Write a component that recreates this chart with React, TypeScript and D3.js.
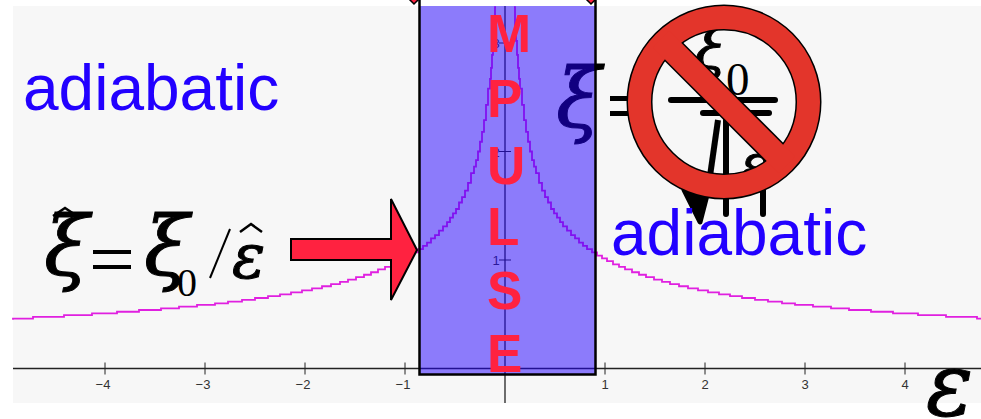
import { useEffect, useRef } from 'react';
import * as d3 from 'd3';

const WIDTH = 981;
const HEIGHT = 419;

const branchEps = [0.09, 0.1, 0.11, 0.12, 0.13, 0.14, 0.15, 0.17, 0.19, 0.21, 0.23, 0.25, 0.27, 0.29, 0.31, 0.34, 0.37, 0.4, 0.43, 0.46, 0.49, 0.52, 0.55, 0.58, 0.62, 0.66, 0.7, 0.74, 0.78, 0.82, 0.87, 0.92, 0.97, 1.02, 1.08, 1.14, 1.2, 1.27, 1.34, 1.41, 1.49, 1.57, 1.65, 1.74, 1.83, 1.93, 2.03, 2.14, 2.25, 2.37, 2.5, 2.63, 2.77, 2.9, 3.08, 3.26, 3.44, 3.66, 3.88, 4.13, 4.41, 4.72, 4.92];
const branchXi = [3.33, 3.16, 3.02, 2.89, 2.77, 2.67, 2.58, 2.43, 2.29, 2.18, 2.09, 2.0, 1.92, 1.86, 1.8, 1.71, 1.64, 1.58, 1.53, 1.47, 1.43, 1.39, 1.35, 1.31, 1.27, 1.23, 1.2, 1.16, 1.13, 1.1, 1.07, 1.04, 1.015, 0.99, 0.96, 0.937, 0.913, 0.887, 0.864, 0.842, 0.82, 0.798, 0.778, 0.758, 0.739, 0.72, 0.702, 0.684, 0.667, 0.65, 0.632, 0.617, 0.6, 0.587, 0.57, 0.554, 0.539, 0.523, 0.508, 0.492, 0.476, 0.46, 0.45];

const xTicks = [-4, -3, -2, -1, 1, 2, 3, 4];
const yTicks = [1, 2, 3];
const impulseLetters = ['M', 'P', 'U', 'L', 'S', 'E'];
const letterRows = [52, 117, 184, 245, 309, 372];

const MATH = '"DejaVu Serif", serif';
const ROMAN = '"Liberation Serif", serif';
const SANS = '"Liberation Sans", Arial, sans-serif';
const RED = '#ff2240';
const BLUE = '#2200ff';

export default function App() {
  const ref = useRef<SVGSVGElement>(null);

  useEffect(() => {
    const svg = d3.select(ref.current);
    svg.selectAll('*').remove();

    const x = d3.scaleLinear().domain([-5, 5]).range([5, 1005]);
    const y = d3.scaleLinear().domain([0, 1]).range([368.5, 260]);

    svg.append('rect').attr('x', 13).attr('y', 6).attr('width', 968).attr('height', 397).attr('fill', '#f7f7f7');

    // axes
    const axes = svg.append('g').attr('stroke', '#222');
    axes.append('line').attr('x1', 13).attr('x2', 981).attr('y1', y(0)).attr('y2', y(0)).attr('stroke-width', 1.3);
    axes.append('line').attr('x1', x(0)).attr('x2', x(0)).attr('y1', 6).attr('y2', 403).attr('stroke-width', 1.3);
    xTicks.forEach((t) => {
      axes.append('line').attr('x1', x(t)).attr('x2', x(t)).attr('y1', y(0) - 6).attr('y2', y(0) + 6).attr('stroke-width', 1);
      svg.append('text').attr('x', x(t) - (t < 0 ? 2 : 0)).attr('y', 389).attr('text-anchor', 'middle')
        .attr('font-family', SANS).attr('font-size', 13).attr('fill', '#333').text(t < 0 ? `\u2212${-t}` : `${t}`);
    });
    yTicks.forEach((t) => {
      axes.append('line').attr('x1', x(0) - 6).attr('x2', x(0) + 6).attr('y1', y(t)).attr('y2', y(t)).attr('stroke-width', 1);
      svg.append('text').attr('x', x(0) - 9).attr('y', y(t) + 5).attr('text-anchor', 'middle')
        .attr('font-family', SANS).attr('font-size', 13).attr('fill', '#333').text(`${t}`);
    });

    // curve, drawn from the centre outwards on both sides
    const drawBranch = (sign: number) => {
      const line = d3.line<number>().x((d) => x(sign * d)).y((_, i) => y(branchXi[i])).curve(d3.curveStepAfter);
      svg.append('path').attr('d', line(branchEps)).attr('fill', 'none').attr('stroke', '#e020e0').attr('stroke-width', 1.8);
    };
    drawBranch(1);
    drawBranch(-1);

    // equation behind the sign, gets tinted by the band
    const math = svg.append('g').attr('fill', '#000');
    const mathText = (s: string, px: number, py: number, size: number) =>
      math.append('text').attr('x', px).attr('y', py).attr('font-family', MATH).attr('font-style', 'italic').attr('font-size', size)
        .attr('stroke', '#000').attr('stroke-width', 1).text(s);

    mathText('\u03be', 556, 127, 82);
    math.append('rect').attr('x', 610).attr('y', 96).attr('width', 40).attr('height', 5);
    math.append('rect').attr('x', 610).attr('y', 111).attr('width', 40).attr('height', 5);
    mathText('\u03be', 695, 68, 58);
    math.append('text').attr('x', 726).attr('y', 95).attr('font-family', ROMAN).attr('font-size', 47).text('0');
    math.append('rect').attr('x', 668).attr('y', 97).attr('width', 110).attr('height', 6).attr('rx', 3);
    math.append('rect').attr('x', 700).attr('y', 110).attr('width', 72).attr('height', 6).attr('rx', 3);
    mathText('\u03b5', 740, 184, 56);
    math.append('path').attr('d', 'M718 120 L708 190').attr('stroke', '#000').attr('stroke-width', 6).attr('fill', 'none');
    math.append('path').attr('d', 'M684 190 L700 222 L707 195 Z').attr('stroke', '#000').attr('stroke-width', 5).attr('stroke-linejoin', 'round');
    math.append('path').attr('d', 'M726 120 V214 M763 190 V214').attr('stroke', '#000').attr('stroke-width', 6).attr('stroke-linecap', 'round');

    // arrow tips clipped by the top edge
    [414, 591].forEach((cx) => {
      svg.append('path').attr('d', `M${cx - 10} -6 L${cx} 4 L${cx + 10} -6 Z`)
        .attr('fill', RED).attr('stroke', '#000').attr('stroke-width', 1.5);
    });

    // impulse band: no stroke along the top, the sides run on to the page edge
    svg.append('rect').attr('x', x(-0.855)).attr('y', 6).attr('width', x(0.905) - x(-0.855)).attr('height', 369)
      .attr('fill', BLUE).attr('fill-opacity', 0.5);
    svg.append('path')
      .attr('d', `M${x(-0.855)} 0 V374.5 H${x(0.905)} V0`)
      .attr('fill', 'none').attr('stroke', '#000').attr('stroke-width', 2.5);

    impulseLetters.forEach((l, i) => {
      svg.append('text').attr('x', 487).attr('y', letterRows[i])
        .attr('font-family', SANS).attr('font-weight', 'bold').attr('font-size', 53).attr('fill', RED).text(l);
    });

    // labels
    [[23, 110], [611, 255]].forEach(([px, py]) => {
      svg.append('text').attr('x', px).attr('y', py).attr('font-family', SANS).attr('font-size', 64).attr('fill', BLUE).text('adiabatic');
    });

    // left formula
    const left = svg.append('g').attr('fill', '#000');
    const leftText = (s: string, px: number, py: number, size: number) =>
      left.append('text').attr('x', px).attr('y', py).attr('font-family', MATH).attr('font-style', 'italic').attr('font-size', size)
        .attr('stroke', '#000').attr('stroke-width', 1).text(s);
    leftText('\u03be', 44, 275, 82);
    left.append('path').attr('d', 'M53 216 L65 208 L77 216').attr('fill', 'none').attr('stroke', '#000').attr('stroke-width', 2.5);
    left.append('rect').attr('x', 93).attr('y', 250).attr('width', 38).attr('height', 4);
    left.append('rect').attr('x', 93).attr('y', 265).attr('width', 38).attr('height', 4);
    leftText('\u03be', 144, 275, 82);
    left.append('text').attr('x', 177).attr('y', 296).attr('font-family', ROMAN).attr('font-size', 40).text('0');
    left.append('path').attr('d', 'M230 229 L210 278').attr('stroke', '#000').attr('stroke-width', 2).attr('fill', 'none');
    leftText('\u03b5', 232, 278, 62);
    left.append('path').attr('d', 'M240 232 L251 224 L262 232').attr('fill', 'none').attr('stroke', '#000').attr('stroke-width', 2.5);

    // epsilon axis label
    svg.append('text').attr('x', 926).attr('y', 415).attr('font-family', MATH).attr('font-style', 'italic').attr('font-size', 88)
      .attr('fill', '#000').attr('stroke', '#000').attr('stroke-width', 1).text('\u03b5');

    // arrow into the band
    svg.append('path').attr('d', 'M291 239 H391 V199 L417 250 L391 300 V260 H291 Z')
      .attr('fill', RED).attr('stroke', '#000').attr('stroke-width', 2);

    // no sign: outlines first, red on top so the bar merges into the ring
    const sign = svg.append('g').attr('transform', 'translate(724,102)');
    sign.append('circle').attr('r', 84.5).attr('fill', 'none').attr('stroke', '#000').attr('stroke-width', 26);
    sign.append('path').attr('d', 'M-58 -58 L58 58').attr('stroke', '#000').attr('stroke-width', 26);
    sign.append('circle').attr('r', 84.5).attr('fill', 'none').attr('stroke', '#e3352b').attr('stroke-width', 23);
    sign.append('path').attr('d', 'M-63 -63 L63 63').attr('stroke', '#e3352b').attr('stroke-width', 23);
  }, []);

  return <svg ref={ref} width={WIDTH} height={HEIGHT} style={{ position: 'absolute', left: 0, top: 0, background: '#fff' }} />;
}
